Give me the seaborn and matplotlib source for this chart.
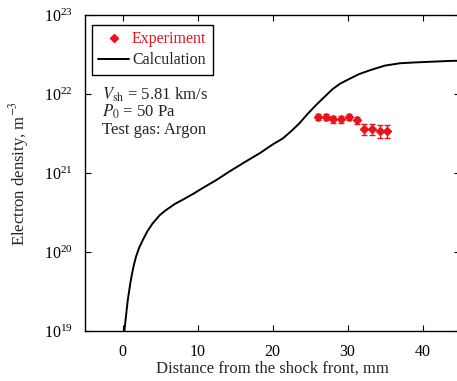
import numpy as np
import pandas as pd
import matplotlib
matplotlib.use("Agg")
import matplotlib.pyplot as plt
import seaborn as sns
from matplotlib.lines import Line2D
from matplotlib.ticker import LogLocator, NullLocator

# calculated electron density profile behind the shock front
calc_x = [0.25, 0.5, 0.7, 1.0, 1.2, 1.5, 1.8, 2.2, 2.7, 3.3, 4.0, 5.0, 5.8, 7.0, 8.0,
          9.5, 10.7, 12.5, 14.3, 16.5, 18.3, 20.0, 21.4, 22.5, 23.6, 24.7, 25.8, 27.0,
          28.0, 29.0, 30.0, 31.5, 33.0, 35.0, 37.0, 39.0, 41.5, 44.0, 45.0]
calc_ne = [1.0e19, 1.66e19, 2.45e19, 3.8e19, 4.9e19, 6.76e19, 8.7e19, 1.12e20, 1.41e20,
           1.82e20, 2.29e20, 2.95e20, 3.39e20, 4.07e20, 4.57e20, 5.5e20, 6.46e20, 8.13e20,
           1.05e21, 1.41e21, 1.78e21, 2.29e21, 2.75e21, 3.39e21, 4.27e21, 5.62e21, 7.24e21,
           9.33e21, 1.15e22, 1.35e22, 1.51e22, 1.78e22, 2.0e22, 2.29e22, 2.45e22, 2.51e22,
           2.57e22, 2.63e22, 2.63e22]

# measured points
exp_x = [26.0, 27.1, 28.1, 29.1, 30.2, 31.2, 32.2, 33.2, 34.3, 35.3]
exp_ne = [5.1e21, 5.1e21, 4.8e21, 4.8e21, 5.1e21, 4.65e21, 3.6e21, 3.6e21, 3.4e21, 3.4e21]
exp_err = [0.45e21, 0.45e21, 0.45e21, 0.45e21, 0.45e21, 0.45e21, 0.6e21, 0.6e21, 0.6e21, 0.6e21]

sns.set_theme(style="ticks")
plt.rcParams['font.family'] = ['Liberation Serif', 'DejaVu Serif']
plt.rcParams['mathtext.fontset'] = 'stix'
plt.rcParams['font.size'] = 12

calc_df = pd.DataFrame({'x': calc_x, 'ne': calc_ne})

fig = plt.figure(figsize=(4.57, 3.81), dpi=100)
ax = fig.add_axes([85 / 457, 1 - 331 / 381, 375 / 457, 316 / 381])

sns.lineplot(data=calc_df, x='x', y='ne', color='black', linewidth=1.4, ax=ax)
ax.errorbar(exp_x, exp_ne, yerr=exp_err, fmt='D', color='#e8141c', markersize=4.5,
            elinewidth=1, capsize=2.5, capthick=1, zorder=3)

ax.set_yscale('log')
ax.set_xlim(-5, 45)
ax.set_ylim(1e19, 1e23)
ax.set_xticks([0, 10, 20, 30, 40])
ax.yaxis.set_major_locator(LogLocator(base=10, numticks=10))
ax.yaxis.set_minor_locator(NullLocator())
ax.tick_params(direction='in', length=4, width=0.8, top=True, right=True,
               labelsize=11.5, colors='black')
ax.tick_params(axis='x', pad=9)
ax.tick_params(axis='y', pad=9)
for s in ax.spines.values():
    s.set_linewidth(1.0)
    s.set_color('black')

ax.set_xlabel('Distance from the shock front, mm', fontsize=12, labelpad=1)
ax.set_ylabel('Electron density, m$^{-3}$', fontsize=12, labelpad=9)

ax.text(0.045, 0.731, r'$V_{\rm sh}$ = 5.81 km/s', transform=ax.transAxes, fontsize=12)
ax.text(0.045, 0.678, r'$P_0$ = 50 Pa', transform=ax.transAxes, fontsize=12)
ax.text(0.045, 0.623, 'Test gas: Argon', transform=ax.transAxes, fontsize=12)

handles = [Line2D([], [], marker='D', color='#e8141c', linestyle='none', markersize=4),
           Line2D([], [], color='black', linewidth=1.4)]
leg = ax.legend(handles, ['Experiment', 'Calculation'], loc='upper left',
                bbox_to_anchor=(7 / 375, 1 - 10 / 316), borderaxespad=0,
                fontsize=11.5, frameon=True, fancybox=False, edgecolor='black',
                framealpha=1, handlelength=1.9, handletextpad=0.2,
                borderpad=0.4, labelspacing=0.3)
leg.get_frame().set_linewidth(1.0)
leg.get_texts()[0].set_color('#e8141c')

fig.savefig('out.png', dpi=100, facecolor='white')
